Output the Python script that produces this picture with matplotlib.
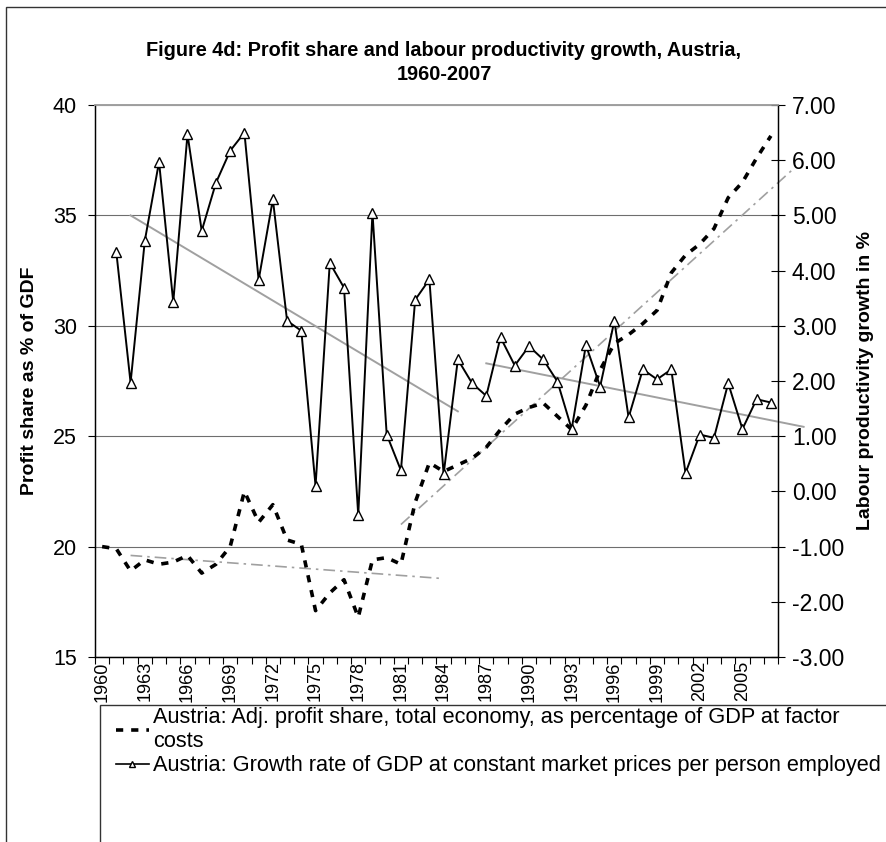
import numpy as np
import matplotlib
matplotlib.use('Agg')
import matplotlib.pyplot as plt
from matplotlib.lines import Line2D
from matplotlib.patches import Rectangle

plt.rcParams['font.family'] = ['Liberation Sans', 'DejaVu Sans']

years = list(range(1960, 2008))

# adj. profit share, % of GDP at factor costs (left axis)
profit = [20.0, 19.9, 18.9, 19.4, 19.2, 19.3, 19.6, 18.8, 19.2, 20.0,
          22.5, 21.1, 21.9, 20.3, 20.1, 17.1, 17.9, 18.5, 16.8, 19.4,
          19.5, 19.2, 22.0, 23.8, 23.4, 23.7, 24.0, 24.5, 25.3, 26.0,
          26.3, 26.5, 25.9, 25.3, 26.4, 28.0, 29.2, 29.6, 30.1, 30.7,
          32.4, 33.2, 33.7, 34.4, 35.8, 36.5, 37.6, 38.6]

# growth of GDP per person employed, % (right axis)
growth = [np.nan, 4.33, 1.97, 4.54, 5.97, 3.43, 6.47, 4.72, 5.59, 6.17,
          6.50, 3.83, 5.29, 3.09, 2.91, 0.10, 4.14, 3.69, -0.43, 5.05,
          1.03, 0.38, 3.47, 3.84, 0.31, 2.39, 1.96, 1.73, 2.79, 2.28,
          2.63, 2.39, 1.99, 1.13, 2.65, 1.90, 3.09, 1.34, 2.21, 2.03,
          2.21, 0.33, 1.03, 0.97, 1.96, 1.13, 1.67, 1.61]

# trend lines (start/end year, start/end value)
trend_growth_a_x = [1962, 1985]
trend_growth_a_y = [5.00, 1.45]
trend_growth_b_x = [1987, 2009.3]
trend_growth_b_y = [2.32, 1.17]
trend_profit_a_x = [1962, 1984]
trend_profit_a_y = [19.6, 18.55]
trend_profit_b_x = [1981, 2008.5]
trend_profit_b_y = [21.0, 37.06]

tick_years = [y for y in years[::3] if y <= 2005]

x = np.arange(len(years))

W, H = 886, 842
L, R, T, B = 95, 778, 105, 657

fig = plt.figure(figsize=(W / 100, H / 100), dpi=100)
ax = fig.add_axes([L / W, 1 - B / H, (R - L) / W, (B - T) / H])
ax2 = ax.twinx()

ax.set_xlim(-0.5, len(years) - 0.5)
ax.set_ylim(15, 40)
ax2.set_ylim(-3, 7)

ax.set_yticks([15, 20, 25, 30, 35, 40])
ax2.set_yticks(np.arange(-3, 8, 1))
ax2.set_yticklabels(['%.2f' % v for v in np.arange(-3, 8, 1)])

ax.grid(axis='y', color='#6e6e6e', lw=0.8, zorder=0)
ax.set_axisbelow(True)

ax.set_xticks([y - years[0] for y in tick_years])
ax.set_xticklabels([str(y) for y in tick_years], rotation=90)
ax.set_xticks(np.arange(-0.5, len(years), 1), minor=True)
ax.tick_params(axis='x', which='major', length=0, pad=3, labelsize=13)
ax.tick_params(axis='x', which='minor', length=5, width=0.8, direction='out')
ax.tick_params(axis='y', length=5, width=0.8, pad=8, labelsize=15.5)
ax2.tick_params(axis='y', direction='inout', length=10, width=0.8, pad=5, labelsize=16.5)

for a in (ax, ax2):
    a.spines['top'].set_color('#a0a0a0')
    a.spines['top'].set_linewidth(1.2)
    for s in ('left', 'right', 'bottom'):
        a.spines[s].set_color('black')
        a.spines[s].set_linewidth(0.9)

ax.plot(x, profit, color='black', lw=2.6, linestyle=(0, (2.0, 2.2)), zorder=3)
ax.plot(np.array(trend_profit_a_x) - years[0], trend_profit_a_y, color='#a0a0a0',
        lw=1.2, linestyle=(0, (7, 3, 1.5, 3)), zorder=2)
ax.plot(np.array(trend_profit_b_x) - years[0], trend_profit_b_y, color='#a0a0a0',
        lw=1.2, linestyle=(0, (7, 3, 1.5, 3)), zorder=2, clip_on=False)

ax2.plot(np.array(trend_growth_a_x) - years[0], trend_growth_a_y, color='#a0a0a0', lw=1.4, zorder=2)
ax2.plot(np.array(trend_growth_b_x) - years[0], trend_growth_b_y, color='#a0a0a0', lw=1.4,
         zorder=2, clip_on=False)
ax2.plot(x, growth, color='black', lw=1.4, marker='^', markersize=6.5,
         markerfacecolor='white', markeredgecolor='black', markeredgewidth=1.0, zorder=4)

ymid = 1 - (T + B) / 2 / H
ax.set_ylabel('Profit share as % of GDF', fontsize=14, fontweight='bold', va='center')
ax2.set_ylabel('Labour productivity growth in %', fontsize=14, fontweight='bold', va='center')
ax.yaxis.set_label_coords(30 / W, ymid, transform=fig.transFigure)
ax2.yaxis.set_label_coords(866 / W, ymid, transform=fig.transFigure)

fig.text(444 / W, 1 - 50 / H, 'Figure 4d: Profit share and labour productivity growth, Austria,',
         ha='center', va='center', fontsize=14.3, fontweight='bold')
fig.text(444 / W, 1 - 75 / H, '1960-2007', ha='center', va='center', fontsize=14.3, fontweight='bold')

# outer chart border and legend box (both run off the image)
fig.patches.append(Rectangle((6 / W, -0.2), 1.2, 0.2 + 1 - 7 / H, transform=fig.transFigure,
                             fill=False, edgecolor='#333333', lw=1.0, clip_on=False))
fig.patches.append(Rectangle((100 / W, -0.2), 1.2, 0.2 + 1 - 705 / H, transform=fig.transFigure,
                             fill=False, edgecolor='#333333', lw=1.0, clip_on=False))

handles = [Line2D([], [], color='black', lw=2.6, linestyle=(0, (2.0, 2.2))),
           Line2D([], [], color='black', lw=1.2, marker='^', markersize=4.5,
                  markerfacecolor='white', markeredgecolor='black')]
labels = ['Austria: Adj. profit share, total economy, as percentage of GDP at factor\ncosts',
          'Austria: Growth rate of GDP at constant market prices per person employed']
leg = fig.legend(handles, labels, loc='upper left', bbox_to_anchor=(116 / W, 1 - 707 / H),
                 frameon=False, fontsize=15.7, handlelength=1.5, handletextpad=0.2,
                 borderaxespad=0, borderpad=0, labelspacing=0.15)
for t in leg.get_texts():
    t.set_linespacing(1.2)

fig.savefig('out.png', dpi=100)
